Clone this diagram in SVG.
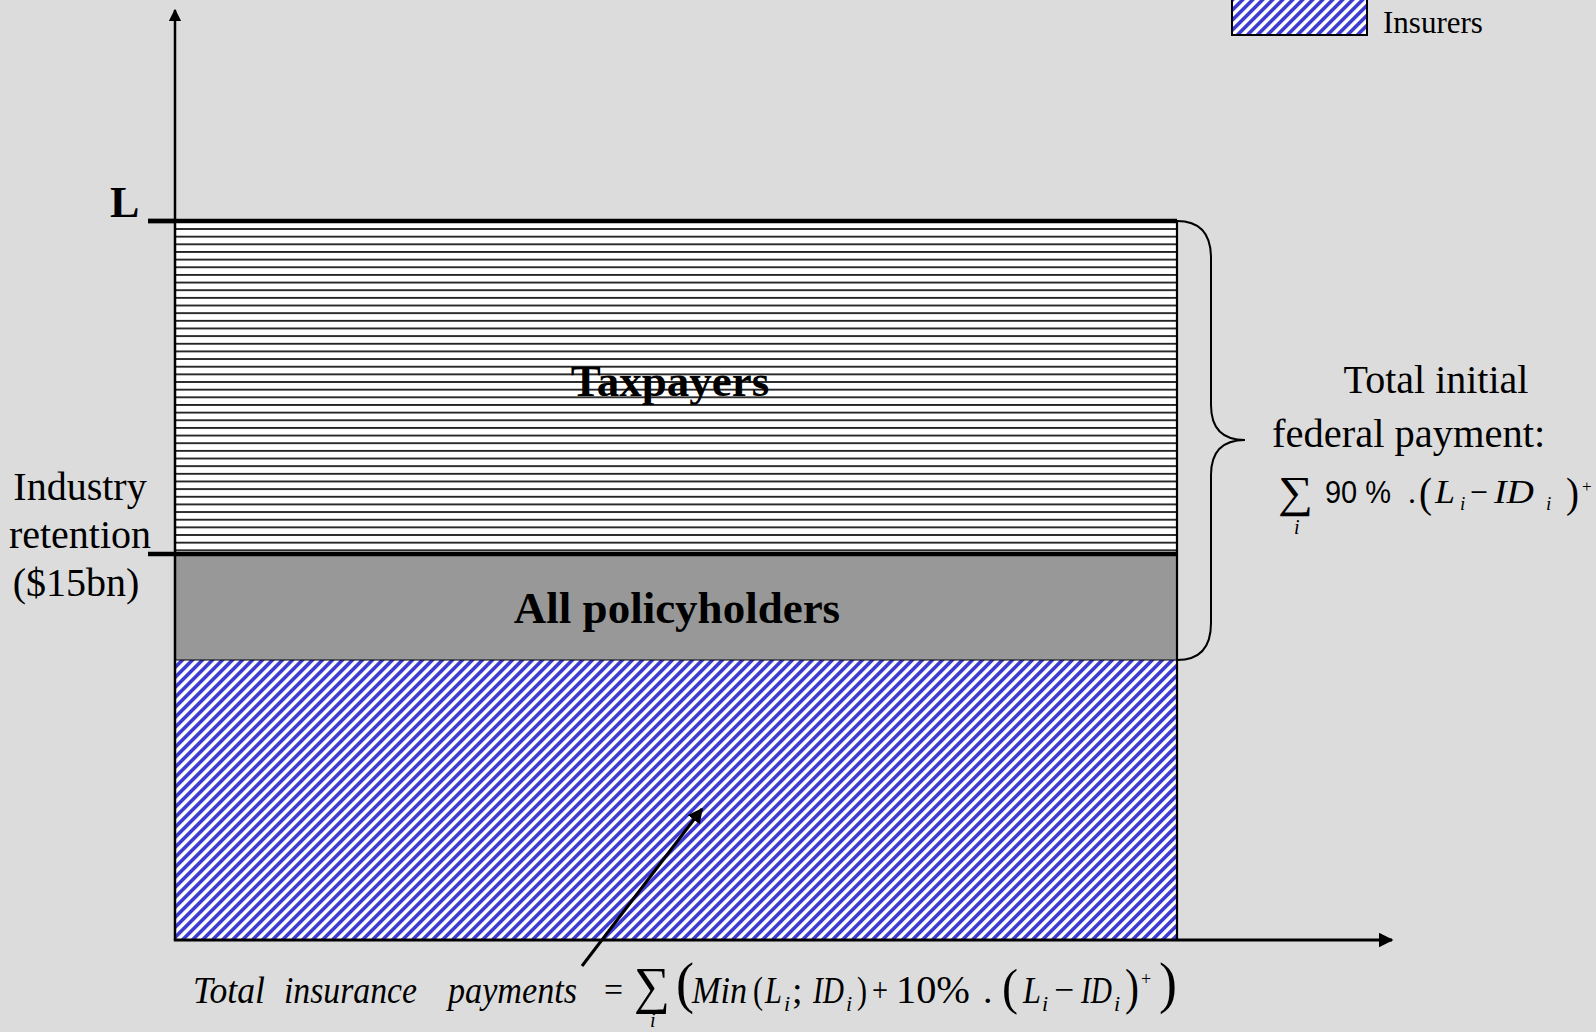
<svg xmlns="http://www.w3.org/2000/svg" width="1596" height="1032" viewBox="0 0 1596 1032">
<defs>
<style>
.serif{font-family:"Liberation Serif","Times New Roman",serif;fill:#000}
.it{font-style:italic}
.bold{font-weight:bold}
.sans{font-family:"Liberation Sans",Arial,sans-serif;fill:#000}
.ln{stroke:#000;fill:none}
</style>
<pattern id="hstripe" patternUnits="userSpaceOnUse" x="0" y="225.2" width="20" height="7.65">
<rect width="20" height="7.65" fill="#fff"/>
<rect y="3" width="20" height="1.6" fill="#000"/>
</pattern>
<pattern id="diag" patternUnits="userSpaceOnUse" width="7.07" height="20" patternTransform="rotate(45)">
<rect width="7.07" height="20" fill="#fff"/>
<rect width="3.6" height="20" fill="#3c3cd2"/>
</pattern>
<marker id="ah" viewBox="0 0 10 10" refX="9" refY="5" markerWidth="5" markerHeight="5" orient="auto" markerUnits="strokeWidth">
<path d="M0,0 L10,5 L0,10 Z" fill="#000"/>
</marker>
</defs>
<rect width="1596" height="1032" fill="#dcdcdc"/>

<g id="insurers">
<rect x="175" y="660" width="1002" height="280" fill="url(#diag)"/>
</g>
<g id="policyholders">
<rect x="175" y="554" width="1002" height="106" fill="#989898"/>
<line x1="175" y1="660" x2="1177" y2="660" class="ln" stroke-width="1"/>
<text x="677" y="623" text-anchor="middle" class="serif bold" font-size="45">All policyholders</text>
</g>
<g id="taxpayers">
<rect x="175" y="221" width="1002" height="333" fill="url(#hstripe)"/>
<text x="670" y="396" text-anchor="middle" class="serif bold" font-size="45">Taxpayers</text>
</g>
<g id="frame">
<line x1="1177" y1="221" x2="1177" y2="940" class="ln" stroke-width="2.2"/>
<line x1="148" y1="221" x2="1177" y2="221" class="ln" stroke-width="4.3"/>
<line x1="148" y1="554" x2="1177" y2="554" class="ln" stroke-width="4.3"/>
</g>

<g id="legend">
<rect x="1232" y="-10" width="135" height="45" fill="url(#diag)" stroke="#000" stroke-width="2"/>
<text x="1383" y="33" class="serif" font-size="31">Insurers</text>
</g>

<g id="axis-labels">
<text x="110" y="217" class="serif bold" font-size="44">L</text>
<text x="80" y="500" text-anchor="middle" class="serif" font-size="40">Industry</text>
<text x="80" y="548" text-anchor="middle" class="serif" font-size="40">retention</text>
<text x="76" y="596" text-anchor="middle" class="serif" font-size="40">($15bn)</text>
</g>

<g id="federal-label">
<text x="1436" y="393" text-anchor="middle" class="serif" font-size="40">Total initial</text>
<text x="1272" y="447" class="serif" font-size="40.5">federal payment:</text>
<text x="1278" y="507" class="serif" font-size="44" textLength="35" lengthAdjust="spacingAndGlyphs">∑</text>
<text x="1294" y="534" class="serif it" font-size="20">i</text>
<text x="1325" y="503" class="sans" font-size="32" textLength="66" lengthAdjust="spacingAndGlyphs">90 %</text>
<text x="1408" y="503" class="serif" font-size="32">.</text>
<text x="1419" y="507" class="serif" font-size="42" textLength="13" lengthAdjust="spacingAndGlyphs">(</text>
<text x="1435" y="503" class="serif it" font-size="33" textLength="20" lengthAdjust="spacingAndGlyphs">L</text>
<text x="1460" y="510" class="serif it" font-size="19">i</text>
<text x="1470" y="503" class="serif" font-size="33" textLength="18" lengthAdjust="spacingAndGlyphs">−</text>
<text x="1494" y="503" class="serif it" font-size="33" textLength="40" lengthAdjust="spacingAndGlyphs">ID</text>
<text x="1546" y="510" class="serif it" font-size="19">i</text>
<text x="1566" y="507" class="serif" font-size="42" textLength="13" lengthAdjust="spacingAndGlyphs">)</text>
<text x="1582" y="492" class="serif" font-size="17">+</text>
</g>

<g id="insurance-label">
<text x="193" y="1003" class="serif it" font-size="38" textLength="72" lengthAdjust="spacingAndGlyphs">Total</text>
<text x="284" y="1003" class="serif it" font-size="38" textLength="133" lengthAdjust="spacingAndGlyphs">insurance</text>
<text x="448" y="1003" class="serif it" font-size="38" textLength="129" lengthAdjust="spacingAndGlyphs">payments</text>
<text x="604" y="1001" class="serif" font-size="34" textLength="19" lengthAdjust="spacingAndGlyphs">=</text>
<text x="634" y="1003" class="serif" font-size="52" textLength="36" lengthAdjust="spacingAndGlyphs">∑</text>
<text x="650" y="1027" class="serif it" font-size="20">i</text>
<text x="676" y="1002" class="serif" font-size="56" textLength="18" lengthAdjust="spacingAndGlyphs">(</text>
<text x="692" y="1003" class="serif it" font-size="38" textLength="55" lengthAdjust="spacingAndGlyphs">Min</text>
<text x="753" y="1003" class="serif" font-size="38" textLength="10" lengthAdjust="spacingAndGlyphs">(</text>
<text x="765" y="1003" class="serif it" font-size="38" textLength="17" lengthAdjust="spacingAndGlyphs">L</text>
<text x="784" y="1011" class="serif it" font-size="22">i</text>
<text x="792" y="1003" class="serif" font-size="38">;</text>
<text x="813" y="1003" class="serif it" font-size="38" textLength="31" lengthAdjust="spacingAndGlyphs">ID</text>
<text x="846" y="1011" class="serif it" font-size="22">i</text>
<text x="857" y="1003" class="serif" font-size="38" textLength="10" lengthAdjust="spacingAndGlyphs">)</text>
<text x="872" y="1001" class="serif" font-size="34" textLength="16" lengthAdjust="spacingAndGlyphs">+</text>
<text x="896" y="1003" class="serif" font-size="40" textLength="74" lengthAdjust="spacingAndGlyphs">10%</text>
<text x="983" y="1003" class="serif" font-size="38">.</text>
<text x="1002" y="1004" class="serif" font-size="50" textLength="16" lengthAdjust="spacingAndGlyphs">(</text>
<text x="1023" y="1003" class="serif it" font-size="38" textLength="18" lengthAdjust="spacingAndGlyphs">L</text>
<text x="1042" y="1011" class="serif it" font-size="22">i</text>
<text x="1054" y="1001" class="serif" font-size="34" textLength="20" lengthAdjust="spacingAndGlyphs">−</text>
<text x="1081" y="1003" class="serif it" font-size="38" textLength="31" lengthAdjust="spacingAndGlyphs">ID</text>
<text x="1114" y="1011" class="serif it" font-size="22">i</text>
<text x="1125" y="1004" class="serif" font-size="50" textLength="14" lengthAdjust="spacingAndGlyphs">)</text>
<text x="1141" y="985" class="serif" font-size="18">+</text>
<text x="1159" y="1002" class="serif" font-size="56" textLength="18" lengthAdjust="spacingAndGlyphs">)</text>
</g>

<g id="connectors">
<line x1="175" y1="940" x2="175" y2="10" class="ln" stroke-width="2.5" marker-end="url(#ah)"/>
<line x1="173.8" y1="940" x2="1392" y2="940" class="ln" stroke-width="3" marker-end="url(#ah)"/>
<line x1="582" y1="966" x2="702" y2="809" class="ln" stroke-width="3" marker-end="url(#ah)"/>
<path d="M1177,221 Q1211,221 1211,258 L1211,405 Q1211,440 1245,440 Q1211,440 1211,475 L1211,623 Q1211,660 1177,660" class="ln" stroke-width="2"/>
<line x1="148" y1="221" x2="175" y2="221" class="ln" stroke-width="4.3"/>
</g>
</svg>
